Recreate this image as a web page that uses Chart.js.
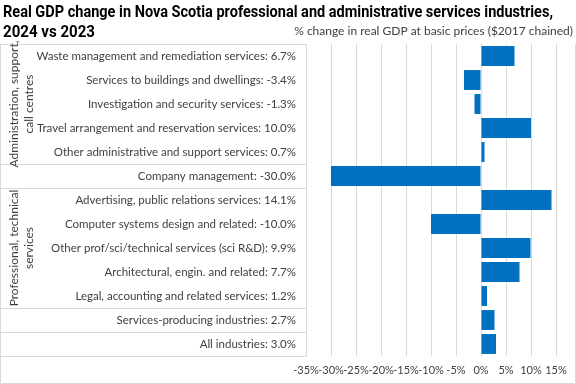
<!DOCTYPE html>
<html>
<head>
<meta charset="utf-8">
<script src="https://cdn.jsdelivr.net/npm/chart.js@4"></script>
<style>
  html, body { margin:0; padding:0; background:#fff; }
  #wrap { width:576px; height:384px; position:relative; }
</style>
</head>
<body>
<div id="wrap"><canvas id="gdpChart" width="576" height="384"></canvas></div>
<script>
/* ========================= */
/* DATA */
/* ========================= */

const categories = [
  "Waste management and remediation services",
  "Services to buildings and dwellings",
  "Investigation and security services",
  "Travel arrangement and reservation services",
  "Other administrative and support services",
  "Company management",
  "Advertising, public relations services",
  "Computer systems design and related",
  "Other prof/sci/technical services (sci R&D)",
  "Architectural, engin. and related",
  "Legal, accounting and related services",
  "Services-producing industries",
  "All industries"
];

const values = [6.7, -3.4, -1.3, 10.0, 0.7, -30.0, 14.1, -10.0, 9.9, 7.7, 1.2, 2.7, 3.0];

const groupNames = [
  ["Administration, support,", "call centres"],
  ["Professional, technical", "services"]
];
const groupFirst = [0, 6];
const groupLast = [4, 10];

// rows after which a separator line is drawn in the label area
const separatorsAfter = [-1, 4, 5, 10, 11, 12];

const tickValues = [-35, -30, -25, -20, -15, -10, -5, 0, 5, 10, 15];

const chartTitle = ["Real GDP change in Nova Scotia professional and administrative services industries,", "2024 vs 2023"];
const axisTitle = "% change in real GDP at basic prices ($2017 chained)";

const labels = categories.map((c, i) => c + ": " + values[i].toFixed(1) + "%");

/* ========================= */
/* DECOR PLUGIN */
/* ========================= */

const LABEL_FONT = "Lato, 'Noto Sans', sans-serif";

const decor = {
  id: 'decor',
  afterDraw(chart){
    const ctx = chart.ctx;
    const area = chart.chartArea;
    const rowH = (area.bottom - area.top) / categories.length;

    ctx.save();

    // title (condensed to the width of the narrow original face)
    ctx.fillStyle = '#000';
    ctx.font = "bold 16px Roboto, sans-serif";
    ctx.textBaseline = 'middle';
    ctx.textAlign = 'left';
    ctx.fillText(chartTitle[0], 3, 13, 550);
    ctx.fillText(chartTitle[1], 3, 33, 92);

    // axis title
    ctx.font = "12px " + LABEL_FONT;
    ctx.fillStyle = '#404040';
    ctx.textAlign = 'right';
    ctx.fillText(axisTitle, 573, 31);

    // separators in label area
    ctx.strokeStyle = '#d9d9d9';
    ctx.lineWidth = 1;
    separatorsAfter.forEach(r => {
      const yy = Math.round(area.top + (r + 1) * rowH) + 0.5;
      ctx.beginPath();
      ctx.moveTo(0, yy);
      ctx.lineTo(area.left, yy);
      ctx.stroke();
    });

    // outer border
    ctx.beginPath();
    ctx.moveTo(0.5, area.top);
    ctx.lineTo(0.5, 383.5);
    ctx.lineTo(575.5, 383.5);
    ctx.lineTo(575.5, area.top);
    ctx.stroke();

    // group labels
    ctx.fillStyle = '#404040';
    ctx.font = "12px " + LABEL_FONT;
    ctx.textAlign = 'center';
    groupNames.forEach((lines, g) => {
      const top = area.top + groupFirst[g] * rowH;
      const bot = area.top + (groupLast[g] + 1) * rowH;
      const cy = (top + bot) / 2;
      ctx.save();
      ctx.translate(21, cy);
      ctx.rotate(-Math.PI / 2);
      ctx.fillText(lines[0], 0, -7);
      ctx.fillText(lines[1], 0, 8);
      ctx.restore();
    });

    ctx.restore();
  }
};

/* ========================= */
/* CHART */
/* ========================= */

const gdpChart = new Chart(
document.getElementById("gdpChart"),
{
  type: 'bar',
  data: {
    labels: labels,
    datasets: [{
      data: values,
      backgroundColor: '#0070c0',
      borderWidth: 0,
      categoryPercentage: 0.83,
      barPercentage: 1.0
    }]
  },
  options: {
    indexAxis: 'y',
    responsive: false,
    animation: false,
    layout: {
      padding: { left: 0, right: 20, top: 44, bottom: 0 }
    },
    plugins: {
      legend: { display: false },
      tooltip: { enabled: false }
    },
    scales: {
      x: {
        min: -35,
        max: 15,
        afterBuildTicks: (scale) => {
          scale.ticks = tickValues.map(v => ({ value: v }));
        },
        afterFit: (scale) => { scale.height = 28; },
        grid: {
          color: '#d9d9d9',
          drawTicks: false
        },
        border: { display: false },
        ticks: {
          padding: 8,
          autoSkip: false,
          maxRotation: 0,
          minRotation: 0,
          color: '#404040',
          font: { family: LABEL_FONT, size: 11 },
          callback: (v) => v + '%'
        }
      },
      y: {
        afterFit: (scale) => { scale.width = 306; },
        grid: { display: false, drawTicks: false },
        border: { display: true, color: '#d9d9d9' },
        ticks: {
          padding: 10,
          autoSkip: false,
          color: '#404040',
          font: { family: LABEL_FONT, size: 11.5 }
        }
      }
    }
  },
  plugins: [decor]
});
</script>
</body>
</html>
